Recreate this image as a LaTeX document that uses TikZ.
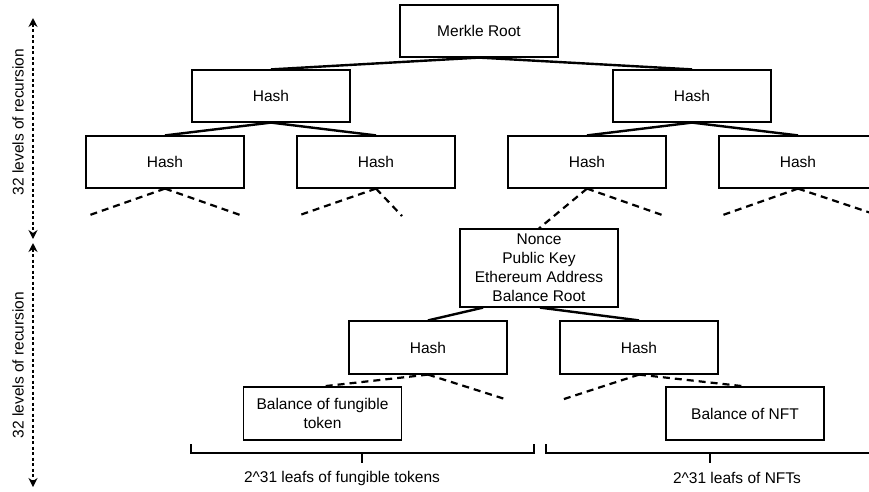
\documentclass[tikz,border=0pt]{standalone}
\usepackage{fontspec}
\setmainfont{Liberation Sans}
\usetikzlibrary{arrows.meta}
\begin{document}
\begin{tikzpicture}[x=1pt,y=-1pt,
  box/.style={draw=black,line width=1.2pt,minimum width=158pt,minimum height=52pt,inner sep=0pt,align=center,font=\fontsize{15.5}{19}\selectfont},
  lbl/.style={inner sep=0pt,font=\fontsize{15.5}{19}\selectfont},
  link/.style={line width=2.4pt},
  dlink/.style={line width=2.2pt,dash pattern=on 7pt off 5pt},
  brk/.style={line width=2.2pt},
  span/.style={line width=1.6pt,dash pattern=on 3pt off 2.5pt,{Stealth[length=9pt,width=9pt]}-{Stealth[length=9pt,width=9pt]}}]
\clip (0,0) rectangle (869,491);
\fill[white] (0,0) rectangle (869,491);
% tree
\node[box] (root) at (479,31) {Merkle Root};
\node[box] (h1a) at (271,96) {Hash};
\node[box] (h1b) at (692,96) {Hash};
\node[box] (h2a) at (165,162) {Hash};
\node[box] (h2b) at (376,162) {Hash};
\node[box] (h2c) at (587,162) {Hash};
\node[box] (h2d) at (798,162) {Hash};
\node[box,minimum height=78pt] (acct) at (539,268) {Nonce\\Public Key\\Ethereum Address\\Balance Root};
\node[box,minimum height=53pt] (h4a) at (428,347.5) {Hash};
\node[box,minimum height=53pt] (h4b) at (639,347.5) {Hash};
\node[box,minimum height=53pt] (leafa) at (322.5,413.5) {Balance of fungible\\token};
\node[box,minimum height=53pt] (leafb) at (745,413.5) {Balance of NFT};
% free ends
\coordinate (e1) at (87,216);
\coordinate (e2) at (243,216);
\coordinate (e3) at (297,216);
\coordinate (e4) at (402,216);
\coordinate (e5) at (665,216);
\coordinate (e6) at (720,216);
\coordinate (e7) at (877,215);
\coordinate (e8) at (508,400);
\coordinate (e9) at (561,400);
% solid links
\draw[link] (root.south) -- (h1a.north);
\draw[link] (root.south) -- (h1b.north);
\draw[link] (h1a.south) -- (h2a.north);
\draw[link] (h1a.south) -- (h2b.north);
\draw[link] (h1b.south) -- (h2c.north);
\draw[link] (h1b.south) -- (h2d.north);
\draw[link] ([xshift=-56pt]acct.south) -- (h4a.north);
\draw[link] ([xshift=1pt]acct.south) -- (h4b.north);
% dashed links
\draw[dlink] (h2a.south) -- (e1);
\draw[dlink] (h2a.south) -- (e2);
\draw[dlink] (h2b.south) -- (e3);
\draw[dlink] (h2b.south) -- (e4);
\draw[dlink] (h2c.south) -- (acct.north);
\draw[dlink] (h2c.south) -- (e5);
\draw[dlink] (h2d.south) -- (e6);
\draw[dlink] (h2d.south) -- (e7);
\draw[dlink] (h4a.south) -- (leafa.north);
\draw[dlink] (h4a.south) -- (e8);
\draw[dlink] (h4b.south) -- (e9);
\draw[dlink] (h4b.south) -- (leafb.north);
% brackets
\draw[brk] (191,444) -- (191,453) -- (534,453) -- (534,444);
\draw[brk] (362,453) -- (362,463);
\draw[brk] (546,444) -- (546,453) -- (874,453) -- (874,444);
\draw[brk] (710,453) -- (710,463);
\node[lbl] (lf) at (342,478) {2\^{}31 leafs of fungible tokens};
\node[lbl] (ln) at (737,478) {2\^{}31 leafs of NFTs};
% recursion spans
\coordinate (a1) at (33,18);
\coordinate (a2) at (33,239);
\coordinate (a3) at (33,243);
\coordinate (a4) at (33,487);
\draw[span] (a1) -- (a2);
\draw[span] (a3) -- (a4);
\node[lbl,rotate=90] (r1) at (18,122) {32 levels of recursion};
\node[lbl,rotate=90] (r2) at (18,365) {32 levels of recursion};
\end{tikzpicture}
\end{document}
